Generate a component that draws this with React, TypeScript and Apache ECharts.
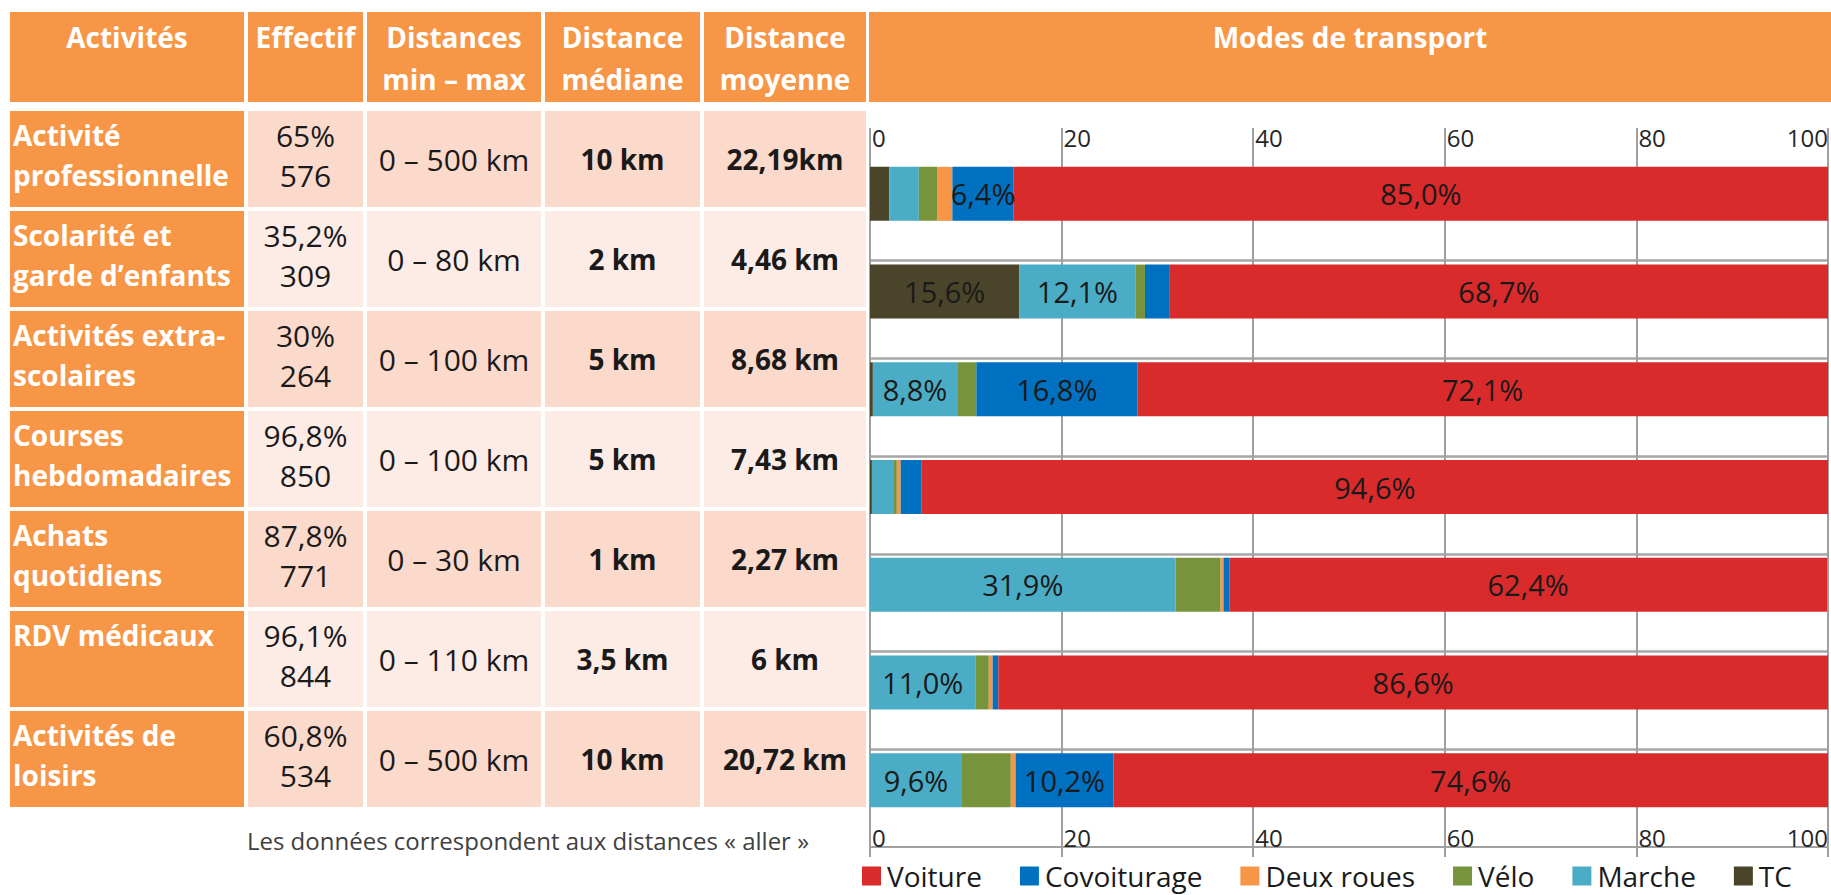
import React, { useEffect, useRef } from 'react';
import * as echarts from 'echarts';

// ---------- Data ----------
const headers = ['Activités', 'Effectif', 'Distances\nmin – max', 'Distance\nmédiane', 'Distance\nmoyenne'];
const modesTitle = 'Modes de transport';
const activities = [
  'Activité\nprofessionnelle',
  'Scolarité et\ngarde d’enfants',
  'Activités extra-\nscolaires',
  'Courses\nhebdomadaires',
  'Achats\nquotidiens',
  'RDV médicaux',
  'Activités de\nloisirs',
];
const effectifPct = ['65%', '35,2%', '30%', '96,8%', '87,8%', '96,1%', '60,8%'];
const effectifN = ['576', '309', '264', '850', '771', '844', '534'];
const distRange = ['0 – 500 km', '0 – 80 km', '0 – 100 km', '0 – 100 km', '0 – 30 km', '0 – 110 km', '0 – 500 km'];
const distMedian = ['10 km', '2 km', '5 km', '5 km', '1 km', '3,5 km', '10 km'];
const distMean = ['22,19km', '4,46 km', '8,68 km', '7,43 km', '2,27 km', '6 km', '20,72 km'];
const footnote = 'Les données correspondent aux distances « aller »';

// transport mode shares (%), stacked from left to right
const tc = [2.0, 15.6, 0.3, 0.2, 0, 0, 0];
const marche = [3.1, 12.1, 8.8, 2.3, 31.9, 11.0, 9.6];
const velo = [1.9, 1.0, 2.0, 0.3, 4.7, 1.4, 5.1];
const deuxRoues = [1.6, 0, 0, 0.4, 0.3, 0.4, 0.5];
const covoiturage = [6.4, 2.6, 16.8, 2.2, 0.6, 0.6, 10.2];
const voiture = [85.0, 68.7, 72.1, 94.6, 62.4, 86.6, 74.6];

const stackOrder = ['TC', 'Marche', 'Vélo', 'Deux roues', 'Covoiturage', 'Voiture'];
const stackData = [tc, marche, velo, deuxRoues, covoiturage, voiture];
const modeColors = ['#4A452A', '#4BACC6', '#77933C', '#F79646', '#0070C0', '#D92B2B'];
const legendOrder = ['Voiture', 'Covoiturage', 'Deux roues', 'Vélo', 'Marche', 'TC'];
const labelThreshold = 6;

// ---------- Styles / layout ----------
const FONT = '"Open Sans", "Noto Sans", sans-serif';
const ORANGE = '#F79646';
const BAND_DARK = '#FBD9CB';
const BAND_LIGHT = '#FDECE6';
const TEXT = '#1a1a1a';
const GRID_GRAY = '#A0A0A0';

const colEdges: [number, number][] = [
  [10, 244],
  [248, 363],
  [367, 541],
  [545, 700],
  [704, 866],
];
const headerTop = 12;
const headerH = 90;
const rowTop0 = 111;
const rowPitch = 100;
const rowH = 96;

function buildTable() {
  const els: any[] = [];
  const txt = (x: number, y: number, text: string, opts: any) => ({
    type: 'text',
    x,
    y,
    silent: true,
    style: {
      text,
      fill: opts.fill || TEXT,
      fontFamily: FONT,
      fontSize: opts.size,
      fontWeight: opts.weight || 'normal',
      lineHeight: opts.lh || 40,
      align: opts.align || 'center',
      textAlign: opts.align || 'center',
      verticalAlign: opts.va || 'middle',
      textVerticalAlign: opts.va || 'middle',
    },
  });
  // header
  headers.forEach((h, c) => {
    const [x0, x1] = colEdges[c];
    els.push({ type: 'rect', silent: true, shape: { x: x0, y: headerTop, width: x1 - x0, height: headerH }, style: { fill: ORANGE } });
    els.push(txt((x0 + x1) / 2, 16, h, { size: 28, weight: 'bold', fill: '#fff', va: 'top', lh: 42 }));
  });
  els.push({ type: 'rect', silent: true, shape: { x: 869, y: headerTop, width: 1831 - 869, height: headerH }, style: { fill: ORANGE } });
  els.push(txt(1350, 16, modesTitle, { size: 28, weight: 'bold', fill: '#fff', va: 'top', lh: 42 }));

  // body rows
  activities.forEach((a, i) => {
    const top = rowTop0 + i * rowPitch;
    const band = i % 2 === 0 ? BAND_DARK : BAND_LIGHT;
    colEdges.forEach(([x0, x1], c) => {
      els.push({ type: 'rect', silent: true, shape: { x: x0, y: top, width: x1 - x0, height: rowH }, style: { fill: c === 0 ? ORANGE : band } });
    });
    const mid = top + rowH / 2;
    els.push(txt(13, top + 4, a, { size: 28, weight: 'bold', fill: '#fff', align: 'left', va: 'top', lh: 40 }));
    els.push(txt((colEdges[1][0] + colEdges[1][1]) / 2, top + 44, effectifPct[i] + '\n' + effectifN[i], { size: 30, lh: 40 }));
    els.push(txt((colEdges[2][0] + colEdges[2][1]) / 2, mid, distRange[i], { size: 30 }));
    els.push(txt((colEdges[3][0] + colEdges[3][1]) / 2, mid, distMedian[i], { size: 28, weight: 'bold' }));
    els.push(txt((colEdges[4][0] + colEdges[4][1]) / 2, mid, distMean[i], { size: 28, weight: 'bold' }));
  });
  els.push(txt(528, 840, footnote, { size: 24, fill: '#404040', lh: 28 }));
  return els;
}

function fmtPct(v: number) {
  return v.toFixed(1).replace('.', ',') + '%';
}

export default function App() {
  const ref = useRef<HTMLDivElement>(null);
  useEffect(() => {
    if (!ref.current) return;
    const chart = echarts.init(ref.current, null, { renderer: 'svg' });
    const series: any[] = stackData.map((d, k) => ({
      name: stackOrder[k],
      type: 'bar',
      stack: 'modes',
      barWidth: 54,
      barGap: '0%',
      data: d,
      itemStyle: { color: modeColors[k] },
      label: {
        show: true,
        position: 'inside',
        fontFamily: FONT,
        fontSize: 29,
        color: TEXT,
        formatter: (p: any) => (p.value >= labelThreshold ? fmtPct(p.value) : ''),
      },
      emphasis: { disabled: true },
    }));
    // empty spacer stack: keeps each bar in the upper part of its category band
    series.push({
      name: 'spacer',
      type: 'bar',
      stack: 'spacer',
      barWidth: 36,
      barGap: '0%',
      silent: true,
      data: activities.map(() => 0),
      itemStyle: { color: 'rgba(0,0,0,0)' },
    });

    chart.setOption({
      animation: false,
      backgroundColor: '#fff',
      textStyle: { fontFamily: FONT },
      graphic: buildTable(),
      grid: { left: 870, top: 163, width: 958, height: 684, containLabel: false },
      legend: {
        data: legendOrder,
        left: 862,
        top: 862,
        itemWidth: 19,
        itemHeight: 19,
        itemGap: 38,
        padding: 0,
        icon: 'rect',
        selectedMode: false,
        textStyle: { fontFamily: FONT, fontSize: 28, color: TEXT, lineHeight: 26, padding: [0, 0, 0, 1] },
      },
      xAxis: [
        {
          type: 'value',
          position: 'bottom',
          min: 0,
          max: 100,
          interval: 20,
          axisLine: { show: true, lineStyle: { color: GRID_GRAY, width: 2 } },
          axisTick: { show: true, length: 10, lineStyle: { color: GRID_GRAY, width: 2 } },
          axisLabel: {
            inside: true,
            align: 'left',
            alignMaxLabel: 'right',
            margin: -2,
            fontFamily: FONT,
            fontSize: 24,
            color: '#262626',
            padding: [0, 0, 0, 2],
          },
          splitLine: { show: true, lineStyle: { color: GRID_GRAY, width: 2 } },
        },
        {
          type: 'value',
          position: 'top',
          min: 0,
          max: 100,
          interval: 20,
          axisLine: { show: false },
          axisTick: { show: true, length: 35, lineStyle: { color: GRID_GRAY, width: 2 } },
          axisLabel: {
            align: 'left',
            alignMaxLabel: 'right',
            margin: 14,
            fontFamily: FONT,
            fontSize: 24,
            color: '#262626',
            padding: [0, 0, 0, 2],
          },
          splitLine: { show: false },
        },
      ],
      yAxis: {
        type: 'category',
        inverse: true,
        data: activities.map((a) => a.replace('\n', ' ')),
        axisLine: { show: false },
        axisTick: { show: false },
        axisLabel: { show: false },
        splitLine: { show: true, showMinLine: false, showMaxLine: false, lineStyle: { color: '#A6A6A6', width: 2.5 } },
      },
      series,
    });
    return () => chart.dispose();
  }, []);
  return (
    <div
      ref={ref}
      style={{ position: 'absolute', left: 0, top: 0, width: 1831, height: 895, background: '#fff' }}
    />
  );
}
